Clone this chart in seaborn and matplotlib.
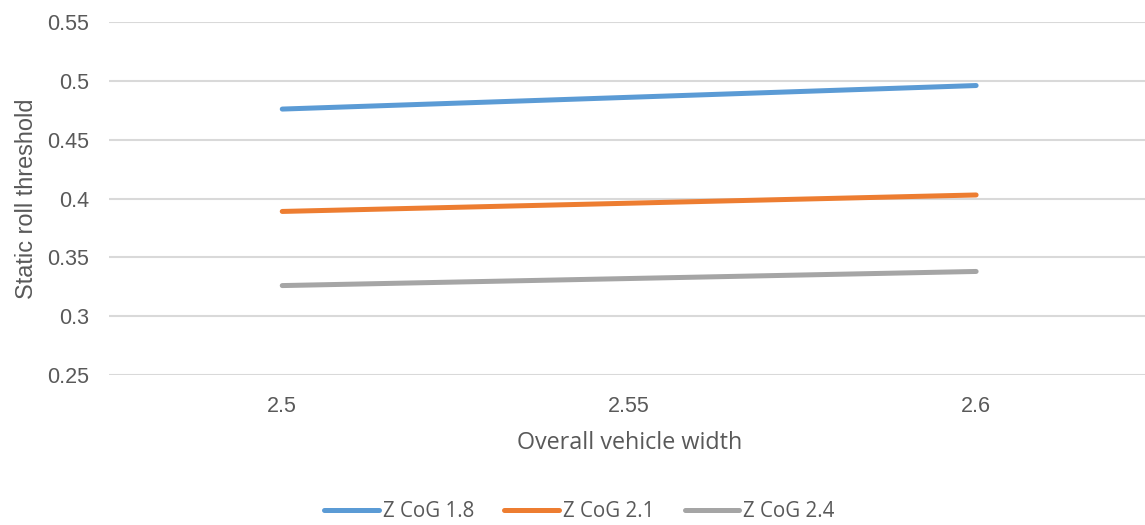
import matplotlib
matplotlib.use("Agg")
import matplotlib.pyplot as plt
import seaborn as sns
import pandas as pd

# Overall vehicle width (m) and static roll threshold for three CoG heights
widths = [2.5, 2.55, 2.6]
width_labels = ["2.5", "2.55", "2.6"]
cog_18 = [0.476, 0.486, 0.496]
cog_21 = [0.389, 0.396, 0.403]
cog_24 = [0.326, 0.332, 0.338]
series_names = ["Z CoG 1.8", "Z CoG 2.1", "Z CoG 2.4"]
y_ticks = [0.25, 0.3, 0.35, 0.4, 0.45, 0.5, 0.55]
y_tick_labels = ["0.25", "0.3", "0.35", "0.4", "0.45", "0.5", "0.55"]

df = pd.DataFrame({
    "width": widths * 3,
    "srt": cog_18 + cog_21 + cog_24,
    "series": [series_names[0]] * 3 + [series_names[1]] * 3 + [series_names[2]] * 3,
})

sns.set_theme(style="white")
plt.rcParams["font.family"] = ["Liberation Sans", "DejaVu Sans"]

palette = {series_names[0]: "#5B9BD5", series_names[1]: "#ED7D31", series_names[2]: "#A5A5A5"}

fig = plt.figure(figsize=(11.45, 5.25), dpi=100)
ax = fig.add_axes([0.095, 0.2857, 0.909, 0.6724])

sns.lineplot(data=df, x="width", y="srt", hue="series", palette=palette,
             linewidth=3.6, ax=ax, solid_capstyle="round", legend=False)

# half a category of padding on either side
ax.set_xlim(2.475, 2.625)
ax.set_ylim(0.25, 0.55)
ax.set_xticks(widths)
ax.set_xticklabels(width_labels)
ax.set_yticks(y_ticks)
ax.set_yticklabels(y_tick_labels)
ax.grid(axis="y", color="#D9D9D9", linewidth=1.5)
ax.set_axisbelow(True)
for s in ax.spines.values():
    s.set_visible(False)

ax.tick_params(axis="y", length=0, pad=14, labelsize=15.5, labelcolor="#595959")
ax.tick_params(axis="x", length=0, pad=15, labelsize=15.5, labelcolor="#595959")

ax.set_xlabel("Overall vehicle width", fontsize=16.8, color="#595959",
              family=["Open Sans", "DejaVu Sans"], labelpad=10)
ax.set_ylabel("Static roll threshold", fontsize=16.9, color="#595959", labelpad=7)

handles = [plt.Line2D([0], [0], color=palette[n], linewidth=3.6, solid_capstyle="round")
           for n in series_names]
fig.legend(handles, series_names, loc="center", bbox_to_anchor=(0.506, 0.025),
           ncol=3, frameon=False, handlelength=2.67, handletextpad=0.2, columnspacing=1.46,
           prop={"family": ["Open Sans", "DejaVu Sans"], "size": 14.8}, labelcolor="#595959")

fig.savefig("out.png", dpi=100)
